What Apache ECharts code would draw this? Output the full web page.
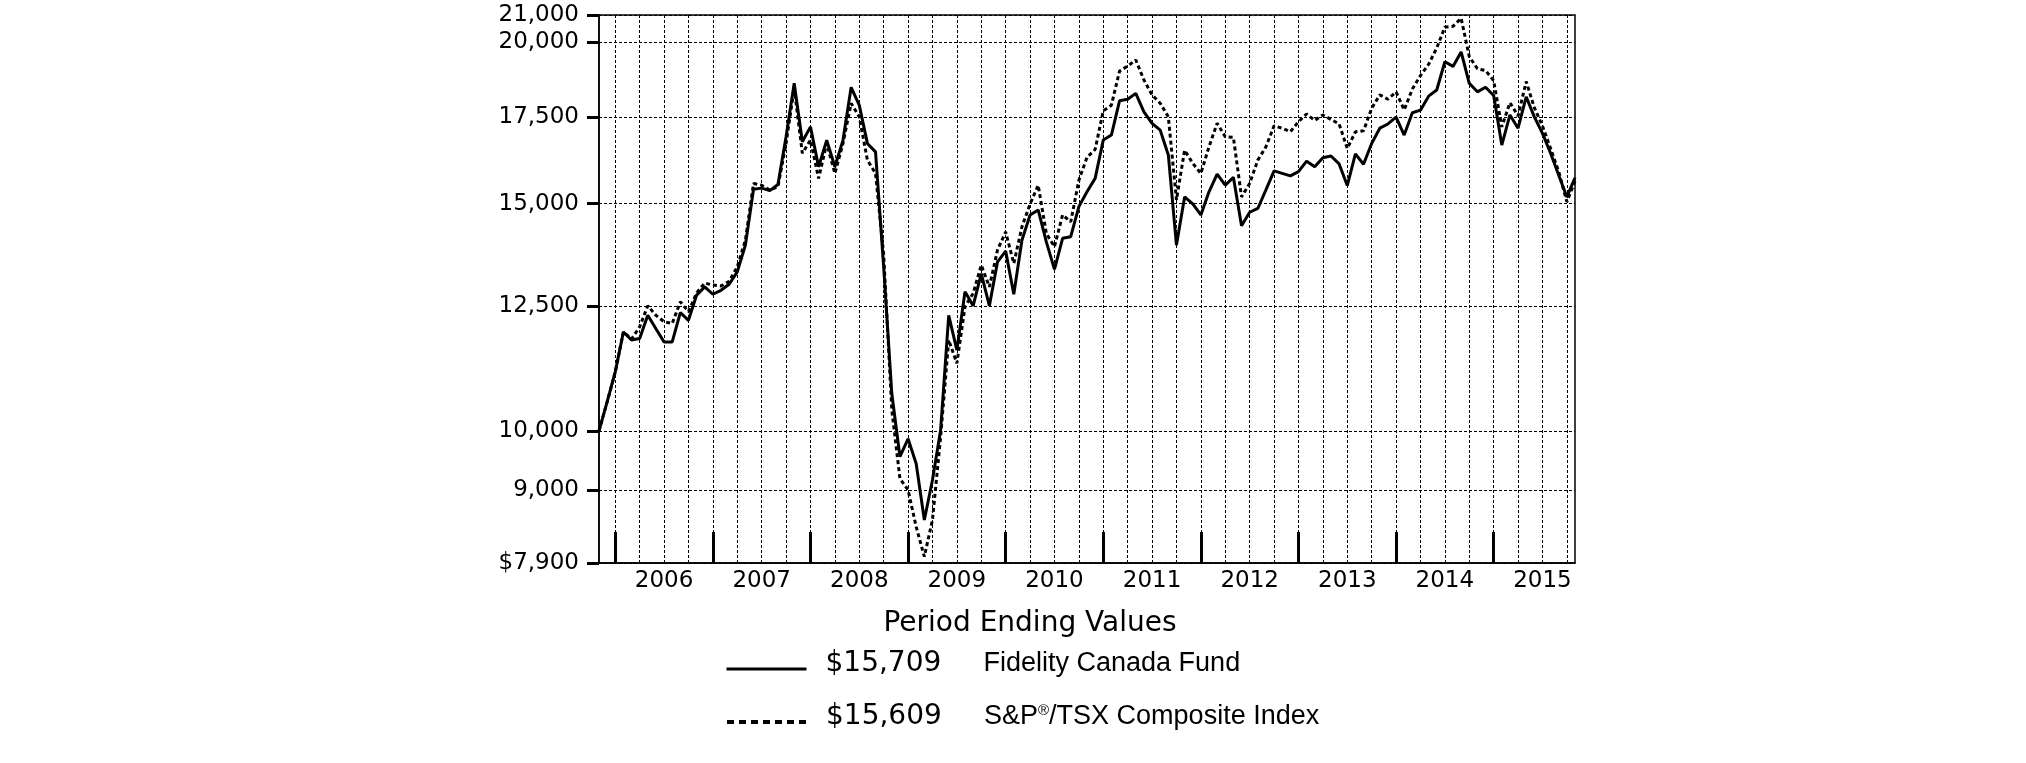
<!DOCTYPE html>
<html>
<head>
<meta charset="utf-8">
<script src="https://cdn.jsdelivr.net/npm/echarts@6/dist/echarts.min.js"></script>
<style>
html,body{margin:0;padding:0;background:#fff;}
#chart{width:2026px;height:763px;}
</style>
</head>
<body>
<div id="chart"></div>
<script>
// Month-end periods (Oct 2005 .. Oct 2015)
const months = [
  "2005-10","2005-11","2005-12",
  "2006-01","2006-02","2006-03","2006-04","2006-05","2006-06","2006-07","2006-08","2006-09","2006-10","2006-11","2006-12",
  "2007-01","2007-02","2007-03","2007-04","2007-05","2007-06","2007-07","2007-08","2007-09","2007-10","2007-11","2007-12",
  "2008-01","2008-02","2008-03","2008-04","2008-05","2008-06","2008-07","2008-08","2008-09","2008-10","2008-11","2008-12",
  "2009-01","2009-02","2009-03","2009-04","2009-05","2009-06","2009-07","2009-08","2009-09","2009-10","2009-11","2009-12",
  "2010-01","2010-02","2010-03","2010-04","2010-05","2010-06","2010-07","2010-08","2010-09","2010-10","2010-11","2010-12",
  "2011-01","2011-02","2011-03","2011-04","2011-05","2011-06","2011-07","2011-08","2011-09","2011-10","2011-11","2011-12",
  "2012-01","2012-02","2012-03","2012-04","2012-05","2012-06","2012-07","2012-08","2012-09","2012-10","2012-11","2012-12",
  "2013-01","2013-02","2013-03","2013-04","2013-05","2013-06","2013-07","2013-08","2013-09","2013-10","2013-11","2013-12",
  "2014-01","2014-02","2014-03","2014-04","2014-05","2014-06","2014-07","2014-08","2014-09","2014-10","2014-11","2014-12",
  "2015-01","2015-02","2015-03","2015-04","2015-05","2015-06","2015-07","2015-08","2015-09","2015-10"
];

// Fidelity Canada Fund – growth of $10,000
const fundValues = [
  10000,10530,11110,
  11930,11760,11790,12290,12000,11720,11720,12350,12180,12740,12930,12760,
  12850,12990,13280,13930,15390,15420,15350,15520,16900,18590,16750,17200,
  16020,16800,16020,16800,18460,17880,16700,16450,13400,10690,9550,9860,
  9430,8530,9160,10010,12290,11550,12820,12500,13240,12500,13520,13780,
  12760,14050,14700,14830,14010,13340,14100,14140,14920,15320,15690,16800,
  16950,18020,18070,18260,17670,17310,17100,16360,13930,15180,14990,14700,
  15320,15810,15500,15720,14420,14770,14870,15370,15900,15830,15760,15880,
  16180,16020,16280,16330,16100,15490,16390,16090,16700,17160,17290,17500,
  16950,17640,17720,18170,18370,19320,19160,19660,18590,18310,18460,18190,
  16650,17570,17160,18150,17510,17000,16410,15780,15180,15709
];

// S&P/TSX Composite Index – growth of $10,000
const indexValues = [
  10000,10530,11110,
  11930,11780,12040,12500,12290,12150,12110,12590,12370,12790,13020,12970,
  12950,13060,13400,14050,15550,15500,15370,15460,16700,18430,16410,16800,
  15690,16700,15830,16700,17940,17510,16210,15830,13700,10380,9185,9000,
  8425,7990,8530,9890,11760,11280,12480,12780,13440,12930,13810,14260,
  13480,14390,14990,15500,14220,13890,14700,14520,15640,16290,16520,17700,
  17880,19000,19170,19380,18700,18210,17940,17510,15100,16500,16120,15830,
  16600,17310,16900,16880,15180,15550,16210,16600,17230,17160,17050,17360,
  17600,17400,17570,17430,17290,16550,17050,17080,17780,18210,18070,18310,
  17730,18400,18850,19230,19800,20550,20580,20880,19500,19080,19020,18680,
  17200,17960,17540,18650,17800,17230,16550,15880,15050,15609
];

const yTicks = [7900, 9000, 10000, 12500, 15000, 17500, 20000, 21000];

const seriesNames = ["Fidelity Canada Fund", "S&P\u00AE/TSX Composite Index"];
const endingLabels = ["$15,709", "$15,609"];

const chart = echarts.init(document.getElementById('chart'), null, {renderer: 'canvas'});

const AX = 'DejaVu Sans';
const legendRich = {
  v: {fontFamily: AX, fontSize: 28, color: '#000', width: 158, padding: [0, 0, 0, 14]},
  a: {fontFamily: '"Liberation Sans", Arial, sans-serif', fontSize: 27, color: '#000'},
  r: {fontFamily: '"Liberation Sans", Arial, sans-serif', fontSize: 15, color: '#000', verticalAlign: 'top'}
};
function legendFmt(name) {
  if (name === seriesNames[0]) return '{v|' + endingLabels[0] + '}{a|Fidelity Canada Fund}';
  return '{v|' + endingLabels[1] + '}{a|S&P}{r|\u00AE}{a|/TSX Composite Index}';
}

const option = {
  animation: false,
  backgroundColor: '#fff',
  grid: {left: 599, top: 15, width: 976, height: 548, show: true, borderColor: '#000', borderWidth: 1.5, backgroundColor: 'transparent'},
  xAxis: {
    type: 'category',
    data: months,
    boundaryGap: false,
    axisLine: {show: true, lineStyle: {color: '#000', width: 1.5}},
    axisTick: {show: true, inside: true, length: 31, interval: (i) => i % 12 === 2, lineStyle: {color: '#000', width: 3}},
    axisLabel: {
      show: true, interval: (i) => i % 12 === 8,
      formatter: (v) => v.slice(0, 4), margin: 7,
      fontFamily: AX, fontSize: 23, color: '#000'
    },
    splitLine: {show: true, interval: (i) => i % 3 === 2, lineStyle: {color: '#000', width: 1, type: [3, 2]}}
  },
  yAxis: {
    type: 'log',
    logBase: 10,
    min: 7900,
    max: 21000,
    axisLine: {show: true, lineStyle: {color: '#000', width: 1.5}},
    axisTick: {show: true, inside: false, length: 12, customValues: yTicks, lineStyle: {color: '#000', width: 3}},
    axisLabel: {
      show: true, customValues: yTicks, margin: 20,
      formatter: (v) => { const r = Math.round(v); const s = r.toLocaleString('en-US'); return r === 7900 ? '$' + s : s; },
      fontFamily: AX, fontSize: 23, color: '#000'
    },
    splitLine: {show: true, lineStyle: {color: '#000', width: 1, type: [3, 2]}}
  },
  legend: [
    {
      data: [seriesNames[0]], orient: 'vertical', left: 725, top: 650, padding: 0,
      itemWidth: 80, itemHeight: 14,
      itemStyle: {opacity: 0},
      lineStyle: {color: '#000', width: 3, type: 'solid'},
      formatter: legendFmt, textStyle: {rich: legendRich, padding: [0, 0, 10, 0]},
      selectedMode: false
    },
    {
      data: [seriesNames[1]], orient: 'vertical', left: 725, top: 703, padding: 0,
      itemWidth: 80, itemHeight: 14,
      itemStyle: {opacity: 0},
      lineStyle: {color: '#000', width: 4, type: [7, 5]},
      formatter: legendFmt, textStyle: {rich: legendRich, padding: [0, 0, 10, 0]},
      selectedMode: false
    }
  ],
  graphic: [
    {type: 'text', x: 1030, y: 624, style: {text: 'Period Ending Values', fontFamily: AX, fontSize: 28, fill: '#000', align: 'center', verticalAlign: 'middle'}}
  ],
  series: [
    {
      name: seriesNames[1], type: 'line', data: indexValues, symbol: 'none', z: 2,
      lineStyle: {color: '#000', width: 3, type: [4, 3]}, itemStyle: {color: '#000'}
    },
    {
      name: seriesNames[0], type: 'line', data: fundValues, symbol: 'none', z: 3,
      lineStyle: {color: '#000', width: 3, type: 'solid'}, itemStyle: {color: '#000'}
    }
  ]
};
chart.setOption(option);
</script>
</body>
</html>
